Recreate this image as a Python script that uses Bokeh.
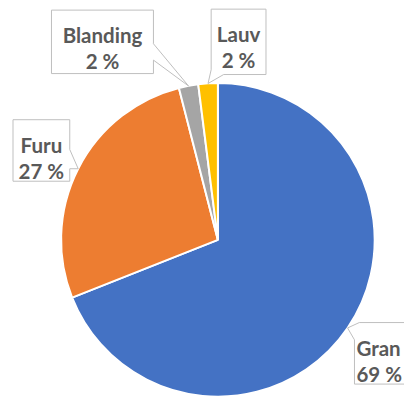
import math
from bokeh.plotting import figure
from bokeh.models import Range1d
from bokeh.embed import file_html
from bokeh.resources import INLINE
from bokeh.core.properties import value

# ---- data ----
categories = ["Gran", "Furu", "Blanding", "Lauv"]
shares = [69, 27, 2, 2]
colors = ["#4472C4", "#ED7D31", "#A5A5A5", "#FFC000"]
label_texts = [f"{v} %" for v in shares]

# ---- layout (reference pixel coordinates, scaled to the figure) ----
W, H = 404, 398
SX, SY = W / 420.0, H / 414.0
CX, CY, R = 226, 249, 163          # pie centre / radius
# callout boxes: left, top, right, bottom
boxes = {
    "Gran": (368, 335, 430, 399),
    "Furu": (13, 124, 72, 188),
    "Blanding": (53, 10, 159, 76),
    "Lauv": (219, 9, 276, 77),
}
TEXT_COLOR = "#595959"
BOX_LINE = "#BFBFBF"
FONT = "Lato"
FSIZE = "20.5px"


def X(sx):
    return sx * SX


def Y(sy):
    return H - sy * SY


p = figure(width=W, height=H, output_backend="svg", toolbar_location=None,
           x_range=Range1d(0, W), y_range=Range1d(0, H), min_border=0)
p.axis.visible = False
p.grid.visible = False
p.outline_line_color = None
p.background_fill_color = "white"

# ---- pie ----
total = float(sum(shares))
starts, ends, tips = [], [], []
acc = 0.0
for v in shares:
    a0 = math.pi / 2 - 2 * math.pi * acc / total
    a1 = math.pi / 2 - 2 * math.pi * (acc + v) / total
    starts.append(a0)
    ends.append(a1)
    mid = (a0 + a1) / 2
    tips.append((CX + R * math.cos(mid), CY - R * math.sin(mid)))
    acc += v

p.wedge(x=X(CX), y=Y(CY), radius=R * SX, start_angle=starts, end_angle=ends,
        direction="clock", fill_color=colors, line_color="white", line_width=2)

# ---- callouts ----
outlines = {}
for cat, (tx, ty) in zip(categories, tips):
    l, t, r, b = boxes[cat]
    if cat == "Blanding":
        pts = [(l, t), (r, t), (r, 45), (tx, ty), (r, 62), (r, b), (l, b)]
    elif cat == "Lauv":
        pts = [(l, t), (r, t), (r, b), (232, b), (tx, ty), (l, 72)]
    elif cat == "Furu":
        pts = [(l, t), (r, t), (r, 155), (tx, ty), (r, 175), (r, b), (l, b)]
    else:  # Gran
        pts = [(373, t), (r, t), (r, b), (l, b), (l, 353), (tx, ty)]
    outlines[cat] = pts

xs = [[X(a) for a, _ in outlines[c]] for c in categories]
ys = [[Y(b) for _, b in outlines[c]] for c in categories]
p.patches(xs=xs, ys=ys, fill_color="white", line_color=BOX_LINE, line_width=1)

for cat, pct in zip(categories, label_texts):
    l, t, r, b = boxes[cat]
    if cat == "Gran":
        # box runs past the chart edge: keep the text inside the figure
        tx_, align = l + 2, "left"
    else:
        tx_, align = (l + r) / 2, "center"
    p.text(x=[X(tx_)], y=[Y(t + 26)], text=[cat], text_align=align,
           text_baseline="alphabetic", text_font=value(FONT),
           text_font_style="bold", text_font_size=FSIZE, text_color=TEXT_COLOR)
    p.text(x=[X(tx_)], y=[Y(t + 53)], text=[pct], text_align=align,
           text_baseline="alphabetic", text_font=value(FONT),
           text_font_style="bold", text_font_size=FSIZE, text_color=TEXT_COLOR)

open("out.html", "w").write(file_html(p, INLINE))
